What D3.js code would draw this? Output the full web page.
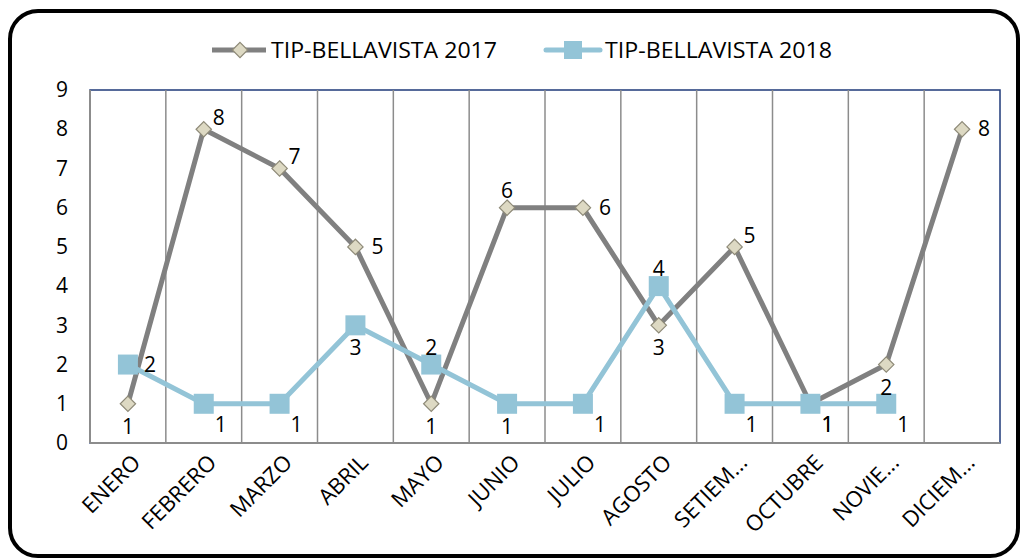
<!DOCTYPE html>
<html>
<head>
<meta charset="utf-8">
<script src="https://cdn.jsdelivr.net/npm/d3@7"></script>
<style>
  html, body { margin: 0; padding: 0; background: #fff; }
  svg { display: block; font-family: "Open Sans", "Noto Sans", sans-serif; }
</style>
</head>
<body>
<div id="chart"></div>
<script>
// Months as printed on the x axis (Excel truncated the long ones)
const months = ["ENERO","FEBRERO","MARZO","ABRIL","MAYO","JUNIO","JULIO","AGOSTO","SETIEM...","OCTUBRE","NOVIE...","DICIEM..."];
const series2017 = [1, 8, 7, 5, 1, 6, 6, 3, 5, 1, 2, 8];
const series2018 = [2, 1, 1, 3, 2, 1, 1, 4, 1, 1, 1, null];
const yTicks = [0, 1, 2, 3, 4, 5, 6, 7, 8, 9];
// where each data label sits relative to its point
const place2017 = ["below","rightUp","rightUp","right","below","above","right","below","rightUp","rightDown","below","right"];
const place2018 = ["right","rightDown","rightDown","below","above","below","rightDown","above","rightDown","rightDown","rightDown",null];

const W = 1022, H = 559;
const plot = { left: 90, right: 1000, top: 90, bottom: 443 };

const C17 = "#808080", C18 = "#93C4D7";

const svg = d3.select("#chart").append("svg").attr("width", W).attr("height", H);

// rounded outer frame
svg.append("rect")
  .attr("x", 10).attr("y", 11).attr("width", 1008).attr("height", 545)
  .attr("rx", 28).attr("ry", 28)
  .attr("fill", "#fff").attr("stroke", "#000").attr("stroke-width", 4);

const x = d3.scaleBand().domain(months).range([plot.left, plot.right]);
const y = d3.scaleLinear().domain([0, 9]).range([plot.bottom, plot.top]);
const cx = m => x(m) + x.bandwidth() / 2;

// plot area border (navy top/right)
svg.append("rect")
  .attr("x", plot.left).attr("y", plot.top)
  .attr("width", plot.right - plot.left).attr("height", plot.bottom - plot.top)
  .attr("fill", "none").attr("stroke", "#1F3A7A").attr("stroke-width", 1.5);

// vertical gridlines at category boundaries
const bounds = months.map(m => x(m));
svg.append("g").selectAll("line").data(bounds.slice(1)).enter().append("line")
  .attr("x1", d => d).attr("x2", d => d)
  .attr("y1", plot.top).attr("y2", plot.bottom)
  .attr("stroke", "#8C8C8C").attr("stroke-width", 1.5);

// left + bottom axis lines in gray
svg.append("line").attr("x1", plot.left).attr("x2", plot.left)
  .attr("y1", plot.top).attr("y2", plot.bottom)
  .attr("stroke", "#8C8C8C").attr("stroke-width", 2);
svg.append("line").attr("x1", plot.left).attr("x2", plot.right)
  .attr("y1", plot.bottom).attr("y2", plot.bottom)
  .attr("stroke", "#8C8C8C").attr("stroke-width", 2);

// y axis labels
const yAxis = d3.axisLeft(y).tickValues(yTicks).tickSize(0).tickPadding(22);
const gy = svg.append("g").attr("transform", `translate(${plot.left},0)`).call(yAxis);
gy.select(".domain").remove();
gy.selectAll("text").attr("font-size", 21).attr("fill", "#000")
  .attr("font-family", "'Open Sans', sans-serif");

// x axis labels, rotated
const xAxis = d3.axisBottom(x).tickSize(0).tickPadding(0);
const gx = svg.append("g").attr("transform", `translate(0,${plot.bottom})`).call(xAxis);
gx.select(".domain").remove();
gx.selectAll("text")
  .attr("font-size", 22).attr("fill", "#000")
  .attr("font-family", "'Open Sans', sans-serif")
  .attr("text-anchor", "end")
  .attr("dy", 0)
  .attr("transform", "translate(14,21) rotate(-45)");

// lines
const line = d3.line()
  .defined(d => d.v != null)
  .x(d => cx(d.m)).y(d => y(d.v));
const pts17 = months.map((m, i) => ({ m, v: series2017[i], p: place2017[i] }));
const pts18 = months.map((m, i) => ({ m, v: series2018[i], p: place2018[i] }));

svg.append("path").datum(pts17).attr("d", line)
  .attr("fill", "none").attr("stroke", C17).attr("stroke-width", 5).attr("stroke-linejoin", "round");
svg.append("path").datum(pts18).attr("d", line)
  .attr("fill", "none").attr("stroke", C18).attr("stroke-width", 5).attr("stroke-linejoin", "round");

// markers
const diamond = d3.symbol().type(d3.symbolDiamond2).size(150);
svg.append("g").selectAll("path").data(pts17).enter().append("path")
  .attr("d", diamond)
  .attr("transform", d => `translate(${cx(d.m)},${y(d.v)})`)
  .attr("fill", "#DDD9C3").attr("stroke", "#8E8A78").attr("stroke-width", 1.2);

svg.append("g").selectAll("rect").data(pts18.filter(d => d.v != null)).enter().append("rect")
  .attr("x", d => cx(d.m) - 10).attr("y", d => y(d.v) - 10)
  .attr("width", 20).attr("height", 20)
  .attr("fill", C18);

// data labels
const offs = {
  right:     [22, 7],
  rightUp:   [15, -4],
  rightDown: [17, 28],
  above:     [0, -10],
  below:     [0, 30]
};
function labels(pts) {
  svg.append("g").selectAll("text").data(pts.filter(d => d.v != null)).enter().append("text")
    .attr("x", d => cx(d.m) + offs[d.p][0])
    .attr("y", d => y(d.v) + offs[d.p][1])
    .attr("text-anchor", "middle")
    .attr("font-size", 21).attr("fill", "#000")
    .text(d => d.v);
}
labels(pts17);
labels(pts18);

// legend
const lg = svg.append("g").attr("transform", "translate(0,50)");
lg.append("line").attr("x1", 212).attr("x2", 266).attr("y1", 0).attr("y2", 0)
  .attr("stroke", C17).attr("stroke-width", 5);
lg.append("path").attr("d", diamond).attr("transform", "translate(240,0)")
  .attr("fill", "#DDD9C3").attr("stroke", "#8E8A78").attr("stroke-width", 1.2);
lg.append("text").attr("x", 271).attr("y", 8).attr("font-size", 22)
  .attr("textLength", 226).attr("lengthAdjust", "spacingAndGlyphs")
  .text("TIP-BELLAVISTA 2017");

lg.append("line").attr("x1", 546).attr("x2", 600).attr("y1", 0).attr("y2", 0)
  .attr("stroke", C18).attr("stroke-width", 5).attr("stroke-linecap", "round");
lg.append("rect").attr("x", 564).attr("y", -9).attr("width", 18).attr("height", 18).attr("fill", C18);
lg.append("text").attr("x", 605).attr("y", 8).attr("font-size", 22)
  .attr("textLength", 227).attr("lengthAdjust", "spacingAndGlyphs")
  .text("TIP-BELLAVISTA 2018");
</script>
</body>
</html>
